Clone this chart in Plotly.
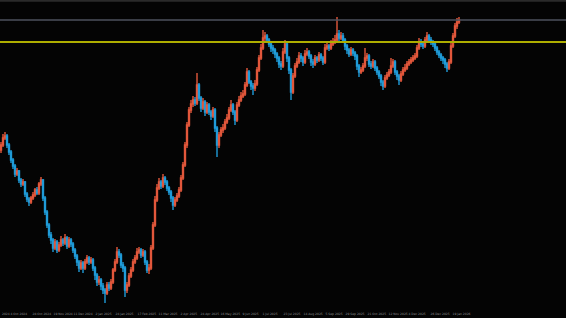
import plotly.graph_objects as go

# Daily candles (price in chart units; no price scale is shown in the reference)
close = [175, 182, 184, 175, 168, 160, 154, 146, 149, 140, 136, 138, 126, 121, 118, 122, 125, 130, 127, 136,
         140, 122, 108, 95, 85, 80, 72, 78, 70, 75, 80, 77, 82, 74, 80, 76, 70, 64, 58, 52,
         57, 52, 58, 62, 58, 60, 52, 45, 38, 40, 34, 30, 27, 35, 32, 38, 50, 58, 68, 65,
         55, 52, 30, 35, 44, 50, 58, 62, 68, 70, 65, 68, 58, 50, 52, 72, 95, 120, 132, 138,
         134, 142, 138, 132, 128, 122, 115, 120, 124, 130, 142, 155, 175, 195, 210, 216, 220, 217, 235, 222,
         212, 218, 208, 215, 208, 204, 210, 192, 175, 185, 190, 192, 198, 202, 210, 215, 208, 200, 215, 220,
         224, 226, 235, 248, 238, 234, 232, 236, 250, 262, 272, 282, 284, 280, 276, 272, 270, 266, 262, 256,
         254, 268, 276, 262, 250, 228, 244, 254, 258, 264, 262, 258, 266, 268, 264, 258, 256, 262, 260, 265,
         262, 258, 272, 274, 272, 276, 278, 280, 286, 282, 284, 280, 274, 270, 266, 270, 267, 264, 254, 248,
         250, 254, 262, 264, 256, 254, 258, 252, 248, 244, 238, 234, 242, 245, 248, 254, 258, 248, 244, 240,
         246, 250, 252, 256, 258, 260, 262, 264, 272, 278, 276, 274, 280, 284, 280, 278, 276, 272, 268, 265,
         262, 260, 256, 252, 258, 274, 284, 294, 298, 300]

open_ = [170, 175, 182, 184, 175, 168, 160, 154, 146, 149, 140, 136, 138, 126, 121, 118, 122, 125, 130, 127,
         136, 140, 122, 108, 95, 85, 80, 72, 78, 70, 75, 80, 77, 82, 74, 80, 76, 70, 64, 58,
         52, 57, 52, 58, 62, 58, 60, 52, 45, 38, 40, 34, 30, 27, 35, 32, 38, 50, 58, 68,
         65, 55, 52, 30, 35, 44, 50, 58, 62, 68, 70, 65, 68, 58, 50, 52, 72, 95, 120, 132,
         138, 134, 142, 138, 132, 128, 122, 115, 120, 124, 130, 142, 155, 175, 195, 210, 216, 220, 217, 235,
         222, 212, 218, 208, 215, 208, 204, 210, 192, 175, 185, 190, 192, 198, 202, 210, 215, 208, 200, 215,
         220, 224, 226, 235, 248, 238, 234, 232, 236, 250, 262, 272, 282, 284, 280, 276, 272, 270, 266, 262,
         256, 254, 268, 276, 262, 250, 228, 244, 254, 258, 264, 262, 258, 266, 268, 264, 258, 256, 262, 260,
         265, 262, 258, 272, 274, 272, 276, 278, 280, 286, 282, 284, 280, 274, 270, 266, 270, 267, 264, 254,
         248, 250, 254, 262, 264, 256, 254, 258, 252, 248, 244, 238, 234, 242, 245, 248, 254, 258, 248, 244,
         240, 246, 250, 252, 256, 258, 260, 262, 264, 272, 278, 276, 274, 280, 284, 280, 278, 276, 272, 268,
         265, 262, 260, 256, 252, 258, 274, 284, 294, 298]

high = [178, 186, 188, 186, 177, 170, 162, 156, 152, 150, 142, 141, 139, 128, 123, 124, 128, 132, 133, 138,
        143, 141, 124, 110, 97, 88, 82, 81, 80, 78, 84, 82, 86, 84, 83, 82, 78, 72, 66, 60,
        60, 59, 61, 65, 64, 63, 62, 54, 47, 44, 42, 37, 32, 38, 38, 41, 52, 61, 73, 71,
        67, 58, 54, 38, 47, 53, 61, 65, 72, 73, 72, 71, 70, 60, 56, 75, 98, 124, 136, 142,
        140, 146, 144, 140, 134, 130, 124, 123, 127, 133, 145, 158, 178, 198, 213, 220, 224, 223, 247, 237,
        224, 222, 220, 218, 217, 210, 213, 212, 194, 188, 193, 196, 201, 206, 213, 220, 217, 210, 218, 224,
        228, 230, 238, 252, 250, 240, 237, 240, 253, 265, 276, 290, 288, 286, 282, 278, 275, 272, 268, 264,
        259, 272, 280, 278, 264, 252, 247, 257, 262, 268, 267, 264, 270, 272, 270, 266, 261, 265, 264, 268,
        267, 264, 276, 278, 276, 280, 282, 285, 303, 290, 288, 287, 282, 276, 272, 273, 272, 269, 266, 256,
        253, 257, 272, 267, 266, 259, 261, 260, 254, 250, 246, 240, 245, 248, 251, 262, 261, 260, 250, 246,
        249, 253, 256, 259, 261, 263, 265, 267, 275, 282, 281, 278, 283, 288, 286, 283, 280, 278, 274, 270,
        267, 264, 262, 258, 261, 277, 287, 297, 302, 303]

low = [167, 173, 180, 172, 165, 157, 151, 143, 144, 137, 133, 134, 123, 118, 114, 116, 120, 123, 125, 125,
       134, 119, 105, 92, 82, 76, 68, 70, 67, 68, 73, 74, 75, 71, 72, 73, 67, 61, 54, 48,
       50, 47, 50, 56, 55, 56, 49, 40, 34, 35, 30, 26, 17, 25, 29, 30, 36, 48, 56, 62,
       52, 48, 23, 27, 33, 42, 48, 56, 60, 66, 62, 63, 55, 47, 46, 50, 70, 93, 118, 130,
       131, 132, 135, 129, 125, 118, 110, 113, 118, 122, 128, 140, 153, 172, 193, 207, 213, 214, 215, 219,
       208, 210, 204, 206, 205, 200, 202, 188, 163, 172, 183, 187, 190, 196, 200, 208, 205, 195, 198, 213,
       218, 222, 224, 233, 236, 230, 225, 229, 234, 248, 260, 270, 279, 277, 273, 268, 266, 262, 258, 252,
       250, 252, 266, 258, 246, 220, 226, 242, 252, 256, 258, 254, 256, 264, 261, 254, 252, 254, 257, 258,
       259, 255, 256, 270, 269, 270, 274, 276, 278, 279, 280, 277, 270, 266, 263, 264, 264, 260, 250, 243,
       246, 248, 252, 259, 253, 251, 252, 249, 245, 241, 234, 230, 232, 240, 243, 246, 252, 245, 240, 235,
       238, 244, 248, 250, 254, 256, 258, 260, 262, 270, 273, 271, 272, 278, 277, 275, 273, 269, 265, 262,
       259, 256, 252, 248, 250, 256, 272, 282, 291, 296]

# Horizontal levels drawn on the chart
resistance_level = 300
support_level = 278

# Date labels on the time axis (bar index where each label's tick sits)
tick_bars = [4.5, 15.5, 26, 36, 47, 57, 68, 78.5, 89.5, 99.5, 109.5, 120.5, 130.5, 141, 151, 162,
             172, 183, 193.5, 203.5, 214.5, 225.5]
tick_text = ["4 Oct 2024", "28 Oct 2024", "19 Nov 2024", "11 Dec 2024", "2 Jan 2025", "24 Jan 2025",
             "17 Feb 2025", "11 Mar 2025", "2 Apr 2025", "24 Apr 2025", "16 May 2025", "9 Jun 2025",
             "1 Jul 2025", "23 Jul 2025", "14 Aug 2025", "5 Sep 2025", "29 Sep 2025", "21 Oct 2025",
             "12 Nov 2025", "4 Dec 2025", "26 Dec 2025", "19 Jan 2026"]
first_label = "2024"

bars = list(range(len(close)))

BULL = "#e2573b"
BEAR = "#1f9bd8"
BG = "#040404"
LABEL = "#8c8c8c"

fig = go.Figure()
fig.add_trace(go.Candlestick(
    x=bars, open=open_, high=high, low=low, close=close,
    increasing=dict(line=dict(color=BULL, width=1.4), fillcolor=BULL),
    decreasing=dict(line=dict(color=BEAR, width=1.4), fillcolor=BEAR),
    whiskerwidth=0, hoverinfo="skip", showlegend=False,
))

fig.add_hline(y=resistance_level, line=dict(color="#4c515d", width=1.5))
fig.add_hline(y=support_level, line=dict(color="#aeae00", width=2))

# thin grey strip along the top edge of the window
fig.add_shape(type="rect", xref="paper", yref="paper", x0=0, x1=1, y0=0.994, y1=1.0,
              fillcolor="#2a2a2a", line=dict(width=0), layer="above")

fig.add_annotation(x=0.2, xref="x", y=0, yref="paper", yanchor="top", xanchor="left",
                   text=first_label, showarrow=False, font=dict(size=3, color=LABEL),
                   yshift=-1, borderpad=0)

fig.update_layout(
    width=566, height=318,
    margin=dict(l=0, r=0, t=0, b=8),
    paper_bgcolor=BG, plot_bgcolor=BG,
    showlegend=False,
    font=dict(family="DejaVu Sans", size=3, color=LABEL),
    xaxis=dict(range=[-0.5, 282.5], rangeslider=dict(visible=False), showgrid=False,
               zeroline=False, showline=False, tickmode="array", tickvals=tick_bars,
               ticktext=tick_text, ticks="outside", ticklen=3, tickcolor=BG,
               tickangle=0, automargin=False,
               ticklabelposition="outside right", tickfont=dict(size=3, color=LABEL),
               fixedrange=True),
    yaxis=dict(range=[10, 320], visible=False, showgrid=False, zeroline=False,
               automargin=False, fixedrange=True),
)

fig.write_html("out.html")
